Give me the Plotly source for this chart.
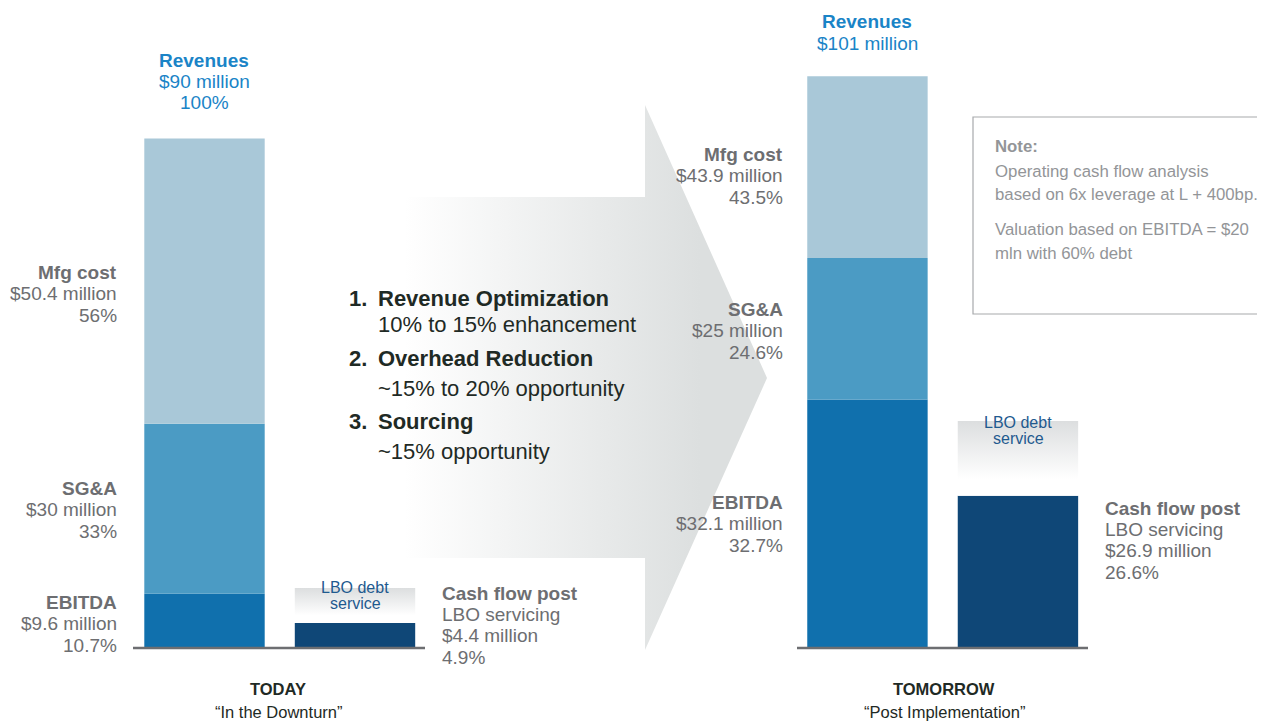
import plotly.graph_objects as go

# ---------------- data ----------------
periods = ["TODAY", "TOMORROW"]
period_notes = ["“In the Downturn”", "“Post Implementation”"]
revenue_m = [90, 101]
revenue_pct = ["100%", ""]
mfg_m = [50.4, 43.9]
mfg_pct = [56, 43.5]
sga_m = [30, 25]
sga_pct = [33, 24.6]
ebitda_m = [9.6, 32.1]
ebitda_pct = [10.7, 32.7]
cash_m = [4.4, 26.9]
cash_pct = [4.9, 26.6]
# stacked segment heights as drawn in the picture (bottom, middle, top)
seg_bottom = [9.6, 43.9]
seg_middle = [30, 25]
seg_top = [50.4, 32.1]
# top of the "LBO debt service" shaded box
debt_box_top = [10.6, 40.1]

levers = ["Revenue Optimization", "Overhead Reduction", "Sourcing"]
lever_notes = ["10% to 15% enhancement", "~15% to 20% opportunity", "~15% opportunity"]
note_lines = ["Operating cash flow analysis", "based on 6x leverage at L + 400bp.",
              "Valuation based on EBITDA = $20", "mln with 60% debt"]

# ---------------- styling ----------------
W, H = 1265, 722
OFF = 8            # page body margin offset
main_x = [0, 4.405]
cash_x = [1, 5.405]
bar_w = 0.8
PX_PER_X = 150.5   # screen px per x unit
PX_PER_Y = 5.66    # screen px per $ million
X0_SCREEN = 204.5  # screen x of x=0
BASE_SCREEN = 648  # screen y of value 0

FONT = "Liberation Sans, Arial, sans-serif"
GREY = "#6d6e71"
BLUE = "#1a84c7"
DARK = "#1f2a25"
NAVY = "#1f5a8f"
NOTE = "#939598"

fig = go.Figure()

# big grey arrow (decoration, screen-pixel coordinates on base axes)
ax = [400, 645, 645, 767, 645, 645, 400, 400]
ay = [197, 197, 105, 378, 650, 558, 558, 197]
fig.add_trace(go.Scatter(
    x=ax, y=ay, mode="lines", line=dict(width=0), fill="toself",
    fillgradient=dict(type="horizontal", start=405, stop=700,
                      colorscale=[[0, "rgba(255,255,255,1)"], [1, "#dcdfdf"]]),
    hoverinfo="skip", showlegend=False, xaxis="x", yaxis="y"))

base_mid = [a for a in seg_bottom]
base_top = [a + b for a, b in zip(seg_bottom, seg_middle)]

fig.add_trace(go.Bar(x=main_x, y=seg_bottom, base=[0, 0], width=bar_w,
                     marker=dict(color="#1070ad", line=dict(width=0)),
                     xaxis="x2", yaxis="y2", hoverinfo="skip", showlegend=False))
fig.add_trace(go.Bar(x=main_x, y=seg_middle, base=base_mid, width=bar_w,
                     marker=dict(color="#4b9bc4", line=dict(width=0)),
                     xaxis="x2", yaxis="y2", hoverinfo="skip", showlegend=False))
fig.add_trace(go.Bar(x=main_x, y=seg_top, base=base_top, width=bar_w,
                     marker=dict(color="#a9c8d8", line=dict(width=0)),
                     xaxis="x2", yaxis="y2", hoverinfo="skip", showlegend=False))
fig.add_trace(go.Bar(x=cash_x, y=cash_m, base=[0, 0], width=bar_w,
                     marker=dict(color="#0f4777", line=dict(width=0)),
                     xaxis="x2", yaxis="y2", hoverinfo="skip", showlegend=False))

# LBO debt service shaded boxes (fade to white at the bottom)
for i in range(2):
    x0, x1 = cash_x[i] - bar_w / 2, cash_x[i] + bar_w / 2
    y0, y1 = cash_m[i], debt_box_top[i]
    fig.add_trace(go.Scatter(
        x=[x0, x1, x1, x0, x0], y=[y0, y0, y1, y1, y0], mode="lines",
        line=dict(width=0), fill="toself",
        fillgradient=dict(type="vertical", start=y0, stop=y1,
                          colorscale=[[0, "rgba(255,255,255,1)"], [0.22, "rgba(255,255,255,1)"],
                                      [1, "#dcdedf"]]),
        xaxis="x2", yaxis="y2", hoverinfo="skip", showlegend=False))

anns = []
LBL = 19


def ann(text, x, y, size=LBL, color=GREY, xanchor="center", family=FONT):
    anns.append(dict(text=text, x=x, y=y, xref="x", yref="y", showarrow=False,
                     xanchor=xanchor, yanchor="middle",
                     font=dict(size=size, color=color, family=family)))


def fmt(v):
    return f"{v:g}"


# ---- left (TODAY) ----
ann("<b>Revenues</b>", 204, 60, color=BLUE)
ann(f"${fmt(revenue_m[0])} million", 204, 81, color=BLUE)
ann(revenue_pct[0], 204, 102, color=BLUE)

left_blocks = [("Mfg cost", mfg_m[0], mfg_pct[0], 272),
               ("SG&A", sga_m[0], sga_pct[0], 488),
               ("EBITDA", ebitda_m[0], ebitda_pct[0], 602)]
for name, m, p, y in left_blocks:
    ann(f"<b>{name}</b>", 119, y, xanchor="right")
    ann(f"${fmt(m)} million", 119, y + 21, xanchor="right")
    ann(f"{fmt(p)}%", 119, y + 43, xanchor="right")

ann("LBO debt", 355, 587, size=16, color=NAVY)
ann("service", 355, 603, size=16, color=NAVY)

ann("<b>Cash flow post</b>", 440, 593, xanchor="left")
ann("LBO servicing", 440, 614, xanchor="left")
ann(f"${fmt(cash_m[0])} million", 440, 635, xanchor="left")
ann(f"{fmt(cash_pct[0])}%", 440, 657, xanchor="left")

ann(f"<b>{periods[0]}</b>", 278, 689, size=16.5, color=DARK)
ann(period_notes[0], 278, 712, size=16.5, color=DARK)

# ---- levers list ----
lever_y = [298, 358, 421]
note_y = [324, 388, 451]
for k in range(3):
    ann(f"<b>{k + 1}.</b>", 347, lever_y[k], size=22, color=DARK, xanchor="left")
    ann(f"<b>{levers[k]}</b>", 376, lever_y[k], size=22, color=DARK, xanchor="left")
    ann(lever_notes[k], 376, note_y[k], size=22, color=DARK, xanchor="left")

# ---- right (TOMORROW) ----
ann("<b>Revenues</b>", 867, 21, color=BLUE)
ann(f"${fmt(revenue_m[1])} million", 867, 43, color=BLUE)

right_blocks = [("Mfg cost", mfg_m[1], mfg_pct[1], 154),
                ("SG&A", sga_m[1], sga_pct[1], 309),
                ("EBITDA", ebitda_m[1], ebitda_pct[1], 502)]
for name, m, p, y in right_blocks:
    ann(f"<b>{name}</b>", 785, y, xanchor="right")
    ann(f"${fmt(m)} million", 785, y + 21, xanchor="right")
    ann(f"{fmt(p)}%", 785, y + 43, xanchor="right")

ann("LBO debt", 1018, 422, size=16, color=NAVY)
ann("service", 1018, 438, size=16, color=NAVY)

ann("<b>Cash flow post</b>", 1103, 508, xanchor="left")
ann("LBO servicing", 1103, 529, xanchor="left")
ann(f"${fmt(cash_m[1])} million", 1103, 550, xanchor="left")
ann(f"{fmt(cash_pct[1])}%", 1103, 572, xanchor="left")

ann(f"<b>{periods[1]}</b>", 944, 689, size=16.5, color=DARK)
ann(period_notes[1], 944, 712, size=16.5, color=DARK)

# ---- note box ----
ann("<b>Note:</b>", 993, 146, size=16.8, color=NOTE, xanchor="left")
for t, y in zip(note_lines, [171, 194, 229, 253]):
    ann(t, 993, y, size=16.8, color=NOTE, xanchor="left")

shapes = [
    dict(type="line", xref="x", yref="y", x0=133, x1=425, y0=648, y1=648,
         line=dict(color=GREY, width=2.5)),
    dict(type="line", xref="x", yref="y", x0=797, x1=1088, y0=648, y1=648,
         line=dict(color=GREY, width=2.5)),
    dict(type="rect", xref="x", yref="y", x0=973, x1=1280, y0=117, y1=314,
         line=dict(color="#a7a9ac", width=1.2), fillcolor="rgba(0,0,0,0)"),
]

# axis ranges: base axes in screen pixels (compensating the page offset),
# overlay axes in chart units
x2_lo = -(X0_SCREEN - OFF) / PX_PER_X
x2_hi = (W - (X0_SCREEN - OFF)) / PX_PER_X
y2_hi = (BASE_SCREEN - OFF) / PX_PER_Y
y2_lo = -(H - (BASE_SCREEN - OFF)) / PX_PER_Y

fig.update_layout(
    width=W, height=H, margin=dict(l=0, r=0, t=0, b=0),
    paper_bgcolor="white", plot_bgcolor="white",
    barmode="overlay", showlegend=False,
    xaxis=dict(range=[OFF, W + OFF], visible=False, fixedrange=True),
    yaxis=dict(range=[H + OFF, OFF], visible=False, fixedrange=True),
    xaxis2=dict(range=[x2_lo, x2_hi], overlaying="x", visible=False, fixedrange=True),
    yaxis2=dict(range=[y2_lo, y2_hi], overlaying="y", visible=False, fixedrange=True),
    annotations=anns, shapes=shapes,
)

fig.write_html("out.html")
